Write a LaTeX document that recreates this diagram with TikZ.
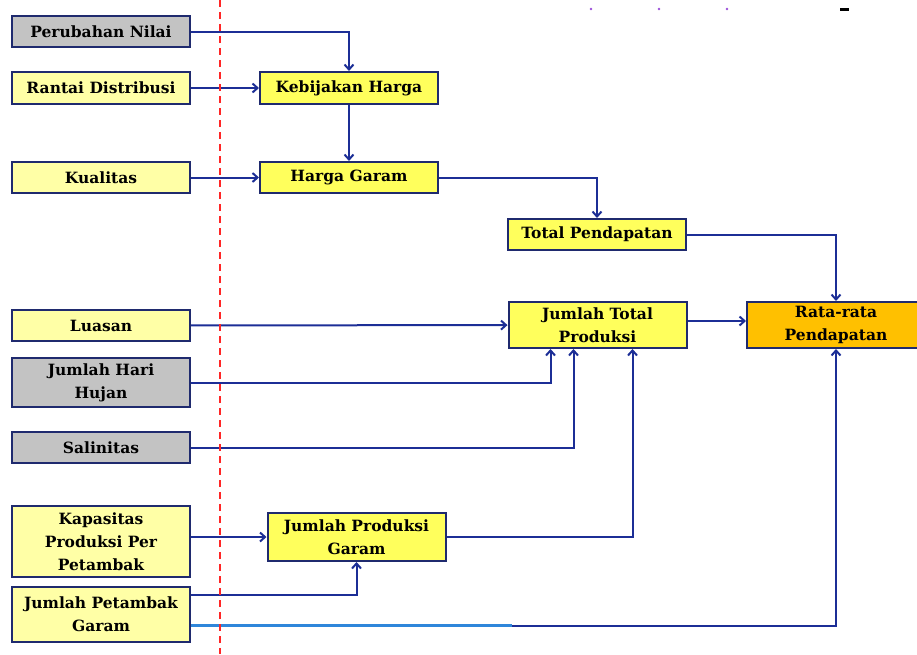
\documentclass[tikz,border=0pt]{standalone}
\usepackage{fontspec}
\setmainfont{DejaVu Serif}
\usetikzlibrary{arrows.meta,calc}
\definecolor{navy}{HTML}{1F2A6E}
\definecolor{lineblue}{HTML}{1C2E96}
\definecolor{lightblue}{HTML}{2F86DA}
\definecolor{boxgray}{HTML}{C3C3C3}
\definecolor{paleyellow}{HTML}{FFFFA6}
\definecolor{brightyellow}{HTML}{FFFF5C}
\definecolor{boxorange}{HTML}{FFC000}
\definecolor{dotviolet}{HTML}{9B4FD8}

\begin{document}
\begin{tikzpicture}[x=1pt,y=-1pt]
\tikzstyle{box}=[draw=navy,line width=2pt,minimum width=178pt,inner sep=1pt,align=center,font=\bfseries\fontsize{15.5}{23}\selectfont];
\tikzstyle{inp}=[box,fill=paleyellow];
\tikzstyle{ext}=[box,fill=boxgray];
\tikzstyle{mid}=[box,fill=brightyellow];
\tikzstyle{dir}=[->,>={Straight Barb[length=5pt,width=9pt]},draw=lineblue,line width=2pt];
\useasboundingbox (0,0) rectangle (917,654);
\node [ext,minimum height=31pt] (pn) at (101,31.5) {Perubahan Nilai};
\node [inp,minimum height=32pt] (rd) at (101,88) {Rantai Distribusi};
\node [inp,minimum height=31pt] (kl) at (101,177.5) {Kualitas};
\node [inp,minimum height=31pt] (ls) at (101,325.5) {Luasan};
\node [ext,minimum height=49pt] (jhh) at (101,382.5) {Jumlah Hari\\Hujan};
\node [ext,minimum height=31pt] (sl) at (101,447.5) {Salinitas};
\node [inp,minimum height=71pt] (kp) at (101,541.5) {Kapasitas\\Produksi Per\\Petambak};
\node [inp,minimum height=55pt] (jpt) at (101,614.5) {Jumlah Petambak\\Garam};
\node [mid,minimum height=32pt] (kh) at (349,88) {Kebijakan Harga};
\node [mid,minimum height=31pt] (hg) at (349,177.5) {Harga Garam};
\node [mid,minimum height=31pt] (tp) at (597,234.5) {Total Pendapatan};
\node [mid,minimum height=46pt] (jtp) at (597.5,325) {Jumlah Total\\Produksi};
\node [box,fill=boxorange,minimum height=46pt] (rr) at (836,325) {Rata-rata\\Pendapatan};
\node [mid,minimum height=48pt] (jpg) at (356.5,537) {Jumlah Produksi\\Garam};
\draw [dir] (pn.east) -| (kh.north);
\draw [dir] (rd) -- (kh);
\draw [dir] (kh) -- (hg);
\draw [dir] (kl) -- (hg);
\draw [dir] (hg.east) -| (tp.north);
\draw [dir] (tp.east) -| (rr.north);
\draw [dir] (ls) -- (jtp);
\draw [dir] (jhh.east) -| ($(jtp.south)+(-47,0)$);
\draw [dir] (sl.east) -| ($(jtp.south)+(-24,0)$);
\draw [dir] (jpg.east) -| ($(jtp.south)+(35,0)$);
\draw [dir] ([yshift=4pt]jtp.east) -- ([yshift=4pt]rr.west);
\draw [dir] (kp.east |- jpg.west) -- (jpg.west);
\draw [dir] ([yshift=19.5pt]jpt.east) -| (jpg.south);
\draw [dir] ([yshift=-11pt]jpt.east) -| (rr.south);
\coordinate (lb) at (512,625.5);
\draw [lightblue,line width=3pt] ([yshift=-11pt]jpt.east) -- (lb);
\draw [red!85!white,line width=1.5pt,dash pattern=on 7pt off 5pt] (220,0) -- (220,654);
\fill [dotviolet] (591,9) circle (1.3pt) (659,9) circle (1.3pt) (727,9) circle (1.3pt);
\fill [black] (840,7.5) rectangle (849,10.5);
\end{tikzpicture}
\end{document}
